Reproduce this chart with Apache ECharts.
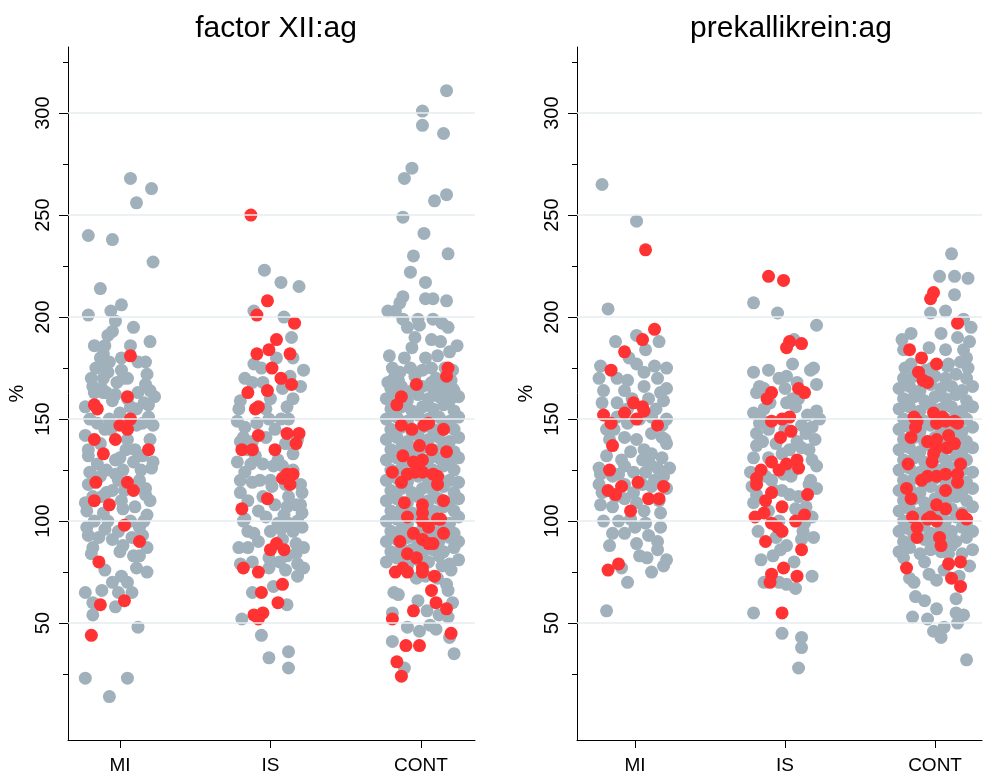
<!DOCTYPE html>
<html><head><meta charset="utf-8">
<script src="https://cdn.jsdelivr.net/npm/echarts@6/dist/echarts.min.js"></script>
<style>html,body{margin:0;padding:0;background:#fff}#c{width:987px;height:776px}</style>
</head><body><div id="c"></div>
<script>
const categories = ['MI', 'IS', 'CONT'];
const panelTitles = ['factor XII:ag', 'prekallikrein:ag'];
const yTickLabels = [50, 100, 150, 200, 250, 300];
const yMinorTicks = [25, 75, 125, 175, 225, 275, 325];

// [jitter, value] pairs — factor XII:ag
const fxMIGrey = [[.07,268],[.21,263],[.11,256],[-.21,240],[-.05,238],[.22,227],[-.13,214],[.01,206],[-.21,201],[-.06,203],[-.03,198],[-.05,193],[-.08,191],[.20,188],[-.17,186],[-.10,186],[.07,186],[-.13,180],[-.11,182],[.01,180],[.17,178],[-.08,173],[.01,174],[.02,170],[.18,172],[-.19,170],[-.18,166],[-.12,165],[-.11,163],[-.02,168],[.05,170],[.17,167],[.20,164],[.23,161],[.12,163],[-.17,163],[-.09,163],[-.03,162],[-.05,159],[.07,156],[.19,157],[.19,151],[.15,148],[-.23,156],[-.15,148],[.00,153],[.11,147],[.22,147],[-.23,142],[-.21,132],[.00,131],[.09,129],[.15,132],[.22,129],[.21,126],[-.20,124],[-.13,122],[-.03,123],[.02,125],[-.01,120],[-.21,118],[-.09,114],[-.05,115],[.17,116],[.17,113],[-.23,109],[-.22,105],[-.11,104],[.02,106],[.10,107],[.18,103],[-.22,97],[-.21,93],[-.10,96],[-.05,91],[.13,97],[.15,93],[-.18,87],[-.19,84],[.02,88],[.18,87],[.09,83],[.11,77],[.18,75],[-.10,76],[-.05,70],[.01,73],[.05,70],[-.23,65],[-.12,66],[-.01,65],[.08,65],[-.18,60],[-.03,58],[-.18,54],[.12,48],[-.23,23],[.05,23],[-.07,14],[-.13,176],[-.07,150],[.05,140],[-.13,138],[.13,120],[-.17,100],[.07,100],[-.03,130],[-.10,145],[.10,135],[.03,115],[.20,140],[-.12,112],[-.01,95],[.08,92],[-.15,128],[.05,160],[-.07,178],[-.16,175],[.12,178],[-.20,150],[.16,158],[-.06,145],[.14,125],[-.18,112],[.01,110],[-.08,100],[.20,110],[-.14,92],[.00,85],[.13,83],[-.21,135],[.04,135],[.11,155],[-.11,170],[.09,195],[-.09,125],[.16,100]];
const fxMIRed = [[.07,181],[.05,161],[-.17,157],[-.15,155],[.07,150],[.00,147],[.05,145],[-.17,140],[-.03,140],[-.11,133],[.19,135],[-.16,119],[.05,119],[.09,115],[-.17,110],[-.07,108],[.03,98],[.13,90],[-.14,80],[-.13,59],[.03,61],[-.19,44]];
const fxISGrey = [[-.04,223],[.07,217],[.19,215],[-.11,203],[.09,200],[.14,190],[.15,180],[.04,180],[-.11,177],[.22,174],[-.12,168],[-.05,168],[.13,171],[.20,166],[.08,165],[-.20,159],[-.21,155],[-.03,155],[-.01,150],[.11,156],[.12,150],[-.22,149],[-.17,146],[-.09,148],[-.03,141],[-.18,141],[-.20,139],[-.12,139],[.10,138],[.15,133],[-.22,129],[-.17,124],[-.05,128],[.02,127],[.08,127],[-.12,119],[-.07,120],[.01,117],[.20,118],[.21,114],[-.20,114],[-.15,110],[-.08,105],[-.03,102],[.11,107],[.17,108],[.21,104],[.09,103],[-.17,101],[.05,99],[.12,99],[.18,100],[.21,97],[-.15,95],[-.11,94],[.07,96],[.15,95],[-.21,87],[-.15,87],[.08,91],[.17,89],[.22,87],[-.01,82],[.11,83],[.17,84],[-.20,79],[-.01,77],[.10,76],[.18,79],[.22,77],[.18,73],[.02,68],[-.12,65],[.11,59],[-.19,52],[-.06,44],[-.01,33],[.12,36],[.12,28],[.03,145],[-.10,132],[.10,118],[-.05,112],[.03,108],[.15,125],[-.13,128],[.07,150],[.00,160],[-.17,170],[-.15,135],[.05,130],[.18,140],[-.20,120],[.12,112],[-.08,90],[.00,95],[.20,108],[-.12,80],[.06,80],[.15,160],[-.06,175],[.00,120],[-.18,100]];
const fxISRed = [[-.13,250],[-.02,208],[-.09,201],[.16,197],[.04,189],[-.01,184],[-.09,182],[.13,182],[.01,175],[.07,170],[.14,167],[-.15,163],[-.02,164],[-.10,155],[-.08,156],[-.08,142],[.11,143],[.19,143],[.17,138],[-.19,135],[-.12,135],[.03,135],[.11,123],[.15,123],[.08,121],[.13,118],[-.02,111],[-.19,106],[.00,86],[.04,89],[.09,86],[-.18,77],[-.08,75],[.08,69],[-.06,65],[.05,60],[-.11,54],[-.08,52],[-.05,55]];
const fxCONTGrey = [[.17,311],[.01,301],[.01,294],[.15,290],[-.06,273],[-.11,268],[.09,257],[.17,260],[-.12,249],[.02,241],[-.05,230],[.18,231],[-.07,222],[.03,217],[-.12,210],[-.14,207],[.03,209],[.08,209],[.17,208],[-.22,203],[-.17,203],[-.12,199],[-.09,195],[-.02,199],[-.01,196],[.08,199],[.14,197],[.18,195],[-.04,190],[.07,189],[.13,188],[.24,186],[-.06,185],[-.11,180],[-.21,181],[.03,180],[.11,181],[.19,183],[-.19,175],[-.14,173],[-.07,175],[.01,174],[.07,175],[.16,175],[.21,174],[-.22,168],[-.15,169],[.07,168],[.21,165],[.15,163],[-.18,65],[-.15,64],[-.02,61],[.04,56],[.12,54],[.18,53],[.21,60],[-.19,55],[-.09,48],[-.01,46],[.06,49],[.10,47],[-.19,41],[.19,43],[.22,35],[-.11,28],[-.03,72],[.03,73],[.11,72],[.17,69],[.18,66],[-.09,78],[.14,78],[.20,76]];
const fxCONTGreyCore = [[-.23,80],[-.16,82],[-.09,79],[-.02,81],[.05,80],[.12,83],[.19,79],[.25,81],[-.20,85],[-.13,87],[-.06,86],[.01,84],[.08,86],[.15,85],[.22,87],[-.23,90],[-.16,91],[-.09,92],[-.02,89],[.05,91],[.12,90],[.19,92],[.25,90],[-.20,95],[-.13,96],[-.06,94],[.01,96],[.08,95],[.15,97],[.22,94],[-.23,100],[-.16,101],[-.09,99],[-.02,102],[.05,100],[.12,101],[.19,99],[.25,102],[-.20,105],[-.13,106],[-.06,104],[.01,106],[.08,105],[.15,107],[.22,105],[-.23,110],[-.16,111],[-.09,109],[-.02,112],[.05,110],[.12,111],[.19,109],[.25,111],[-.20,115],[-.13,116],[-.06,114],[.01,116],[.08,115],[.15,117],[.22,114],[-.23,120],[-.16,121],[-.09,119],[-.02,122],[.05,120],[.12,121],[.19,120],[.25,119],[-.20,125],[-.13,126],[-.06,124],[.01,126],[.08,125],[.15,127],[.22,125],[-.23,130],[-.16,131],[-.09,129],[-.02,132],[.05,130],[.12,131],[.19,129],[.25,131],[-.20,135],[-.13,136],[-.06,134],[.01,136],[.08,135],[.15,137],[.22,134],[-.23,140],[-.16,141],[-.09,139],[-.02,142],[.05,140],[.12,141],[.19,139],[.25,141],[-.20,145],[-.13,146],[-.06,144],[.01,146],[.08,145],[.15,147],[.22,145],[-.23,150],[-.16,151],[-.09,149],[-.02,152],[.05,150],[.12,151],[.19,149],[.25,151],[-.20,155],[-.13,156],[-.06,154],[.01,156],[.08,155],[.15,157],[.22,154],[-.23,160],[-.16,161],[-.09,159],[-.02,162],[.05,160],[.12,161],[.19,159],[.25,161],[-.20,165],[-.13,166],[-.06,164],[.01,166],[.08,165],[.15,167],[.22,164],[-.18,170],[-.04,171],[.10,170],[.20,169]];
const fxCONTRed = [[.18,175],[.17,171],[-.03,167],[-.13,161],[-.16,157],[-.13,147],[-.06,145],[.02,147],[.05,148],[.15,145],[-.01,137],[.07,135],[.17,134],[-.12,132],[-.05,129],[.01,130],[-.02,127],[-.19,124],[-.09,123],[-.13,119],[-.04,124],[.01,124],[.08,123],[.11,122],[.11,118],[.15,110],[-.11,109],[.01,108],[.01,104],[.01,100],[-.09,102],[.11,101],[.13,101],[.05,97],[.15,94],[-.05,94],[-.14,90],[.01,91],[.05,89],[.08,89],[-.09,84],[-.03,82],[-.17,75],[-.12,77],[-.09,75],[.01,77],[.01,75],[.09,73],[.07,66],[.10,60],[-.05,56],[.17,57],[-.19,52],[.20,45],[-.10,39],[-.01,39],[-.16,31],[-.13,24]];

// [jitter, value] pairs — prekallikrein:ag
const pkMIGrey = [[-.22,265],[.01,247],[-.18,204],[.01,191],[-.13,188],[.16,188],[.07,184],[-.23,176],[-.24,170],[.01,177],[.13,176],[.21,175],[.15,170],[.06,173],[-.12,170],[-.05,169],[-.21,164],[-.07,164],[.06,166],[.17,163],[.19,159],[-.22,158],[-.12,158],[-.12,151],[.11,151],[.21,150],[.18,147],[-.07,141],[.01,140],[.11,143],[.21,138],[.18,141],[-.19,132],[-.03,134],[.05,130],[.11,133],[.18,131],[-.24,126],[-.23,123],[-.07,127],[-.01,124],[.15,126],[.23,126],[-.15,122],[-.11,123],[.07,124],[.19,122],[-.24,118],[-.22,114],[-.01,114],[.05,118],[-.23,108],[-.15,107],[-.07,111],[.01,109],[.11,117],[.17,104],[.21,116],[-.03,101],[.06,105],[.07,99],[.09,93],[.17,97],[-.15,94],[-.07,94],[.01,89],[.03,83],[.08,82],[.15,86],[.21,81],[.19,78],[.11,75],[-.09,77],[-.05,70],[-.19,56],[-.14,145],[-.05,155],[.09,160],[-.17,140],[.03,150],[.13,120],[-.11,100],[-.04,180],[.06,135],[-.21,100],[.16,110],[-.07,118],[-.19,145],[.14,155],[-.09,130],[.10,128],[-.02,160],[.21,165],[-.13,112],[.00,97],[.15,90],[-.17,88],[.20,140],[-.05,148]];
const pkMIRed = [[.07,233],[.13,194],[.05,189],[-.07,183],[-.16,174],[-.01,158],[.05,156],[.06,154],[.01,150],[-.07,153],[-.21,152],[-.16,148],[.15,147],[-.15,137],[-.17,125],[.02,119],[-.18,115],[-.13,113],[-.09,117],[.09,111],[.16,111],[.19,117],[-.03,105],[-.18,76],[-.11,79]];
const pkISGrey = [[-.21,207],[-.05,202],[.21,196],[.06,189],[.05,177],[.17,174],[.19,175],[-.21,173],[-.11,174],[-.04,170],[.01,171],[.08,168],[.21,167],[-.19,163],[-.17,166],[-.14,165],[.05,160],[.01,158],[.07,156],[-.21,153],[.21,154],[.23,150],[-.17,148],[-.19,143],[-.15,139],[-.06,138],[.11,147],[.14,143],[.18,146],[.08,139],[.11,136],[.16,135],[-.19,137],[-.21,131],[-.11,131],[-.02,133],[.18,130],[.21,127],[-.23,124],[-.13,122],[-.09,120],[-.01,123],[.04,122],[-.22,117],[.21,116],[.16,118],[.03,113],[.09,112],[-.19,113],[-.21,109],[.07,106],[.14,107],[.18,102],[.13,99],[-.06,92],[.01,88],[-.03,86],[.11,91],[.19,92],[-.16,81],[-.14,70],[-.04,70],[.01,69],[.07,67],[.18,73],[-.21,55],[-.02,45],[.11,43],[.11,38],[.09,28],[-.11,145],[.03,135],[-.07,115],[.06,125],[-.14,155],[.09,160],[-.04,100],[-.11,105],[-.16,150],[.00,145],[.17,120],[-.02,115],[.12,95],[-.18,95],[.20,140],[-.08,83],[.06,80],[.15,152],[-.10,158],[.00,165]];
const pkISRed = [[-.11,220],[-.01,218],[.03,188],[.01,185],[.11,187],[.09,165],[.13,163],[-.09,163],[-.12,160],[-.09,149],[-.02,150],[.03,151],[-.03,141],[.04,144],[-.09,129],[-.04,125],[.01,128],[.08,130],[.09,126],[-.16,125],[-.19,121],[-.19,118],[-.09,114],[-.13,110],[.15,113],[-.02,107],[.13,103],[.07,100],[-.20,102],[-.14,104],[-.09,99],[-.05,97],[-.02,95],[-.13,90],[.11,86],[-.01,77],[-.09,74],[-.10,70],[.08,73],[-.02,55]];
const pkCONTGrey = [[.11,231],[.03,220],[.13,220],[.22,219],[.13,211],[-.03,202],[.07,203],[.19,199],[.24,195],[-.16,192],[-.22,189],[.04,192],[.15,190],[-.21,184],[-.04,185],[.07,184],[.23,188],[.19,184],[-.16,177],[-.02,175],[.09,177],[.17,178],[.21,180],[-.17,72],[-.14,70],[-.13,63],[-.07,61],[.01,57],[.14,62],[-.15,53],[-.05,52],[.14,55],[.19,54],[.15,50],[-.01,46],[.04,43],[.06,48],[.21,32],[-.04,74],[.01,71],[.06,76],[.16,73],[-.21,82],[-.07,80],[.09,84],[.23,78]];
const pkCONTGreyCore = [[-.24,85],[-.17,87],[-.10,84],[-.03,86],[.04,85],[.11,88],[.18,84],[.25,86],[-.21,90],[-.14,92],[-.07,91],[.00,89],[.07,91],[.14,90],[.21,92],[-.24,95],[-.17,96],[-.10,97],[-.03,94],[.04,96],[.11,95],[.18,97],[.25,95],[-.21,100],[-.14,101],[-.07,99],[.00,101],[.07,100],[.14,102],[.21,99],[-.24,105],[-.17,106],[-.10,104],[-.03,107],[.04,105],[.11,106],[.18,104],[.25,107],[-.21,110],[-.14,111],[-.07,109],[.00,111],[.07,110],[.14,112],[.21,110],[-.24,115],[-.17,116],[-.10,114],[-.03,117],[.04,115],[.11,116],[.18,114],[.25,116],[-.21,120],[-.14,121],[-.07,119],[.00,121],[.07,120],[.14,122],[.21,119],[-.24,125],[-.17,126],[-.10,124],[-.03,127],[.04,125],[.11,126],[.18,125],[.25,124],[-.21,130],[-.14,131],[-.07,129],[.00,131],[.07,130],[.14,132],[.21,130],[-.24,135],[-.17,136],[-.10,134],[-.03,137],[.04,135],[.11,136],[.18,134],[.25,136],[-.21,140],[-.14,141],[-.07,139],[.00,141],[.07,140],[.14,142],[.21,139],[-.24,145],[-.17,146],[-.10,144],[-.03,147],[.04,145],[.11,146],[.18,144],[.25,146],[-.21,150],[-.14,151],[-.07,149],[.00,151],[.07,150],[.14,152],[.21,150],[-.24,155],[-.17,156],[-.10,154],[-.03,157],[.04,155],[.11,156],[.18,154],[.25,156],[-.21,160],[-.14,161],[-.07,159],[.00,161],[.07,160],[.14,162],[.21,159],[-.24,165],[-.17,166],[-.10,164],[-.03,167],[.04,165],[.11,166],[.18,164],[.25,166],[-.21,170],[-.14,171],[-.07,169],[.00,171],[.07,170],[.14,172],[.21,170],[-.20,175],[-.06,174],[.08,176],[.22,175]];
const pkCONTRed = [[-.01,212],[-.03,209],[.15,197],[-.17,184],[-.09,180],[.01,177],[-.11,173],[-.08,169],[-.05,168],[-.14,151],[-.12,149],[-.16,141],[-.13,146],[-.01,153],[.05,151],[.01,148],[.07,149],[.13,149],[.15,148],[.09,142],[.13,138],[-.05,139],[.01,140],[.01,136],[.08,136],[-.18,128],[-.02,129],[-.01,133],[.17,128],[.15,123],[-.09,120],[-.05,122],[.01,122],[.07,123],[.15,119],[-.19,116],[-.16,111],[.07,115],[.01,108],[.07,106],[.18,103],[.21,101],[-.15,102],[-.12,97],[-.12,92],[-.05,101],[-.03,102],[.01,100],[.03,92],[.04,88],[-.19,77],[.09,79],[.17,80],[.11,72],[.17,68]];

const GREY = '#a0b1bc', RED = '#ff3333', FONT = '"Liberation Sans", Arial, Helvetica, sans-serif';
const Y_MIN = -7.3, Y_MAX = 332.4;

function place(groups) {
  const out = [];
  groups.forEach((g, i) => g.forEach(([j, v]) => out.push([i + 1 + j, v])));
  return out;
}

function xAxisFor(gi, min, max) {
  return {
    gridIndex: gi, type: 'value', min: min, max: max,
    axisLine: { show: true, onZero: false, lineStyle: { color: '#000', width: 1 } },
    axisTick: { show: true, length: 8, customValues: [1, 2, 3], lineStyle: { color: '#000' } },
    axisLabel: { customValues: [1, 2, 3], formatter: v => categories[Math.round(v) - 1] || '', fontSize: 19, color: '#000', margin: 16, fontFamily: FONT },
    splitLine: { show: false }
  };
}
function yAxisMain(gi) {
  return {
    gridIndex: gi, type: 'value', min: Y_MIN, max: Y_MAX, position: 'left',
    axisLine: { show: true, onZero: false, lineStyle: { color: '#000', width: 1 } },
    axisTick: { show: true, length: 9, customValues: yTickLabels, lineStyle: { color: '#000' } },
    axisLabel: { customValues: yTickLabels, rotate: 90, fontSize: 20, color: '#000', margin: 15, fontFamily: FONT },
    splitLine: { show: false },
    name: '%', nameLocation: 'middle', nameRotate: 90, nameGap: 41,
    nameTextStyle: { fontSize: 20, color: '#000', fontFamily: FONT }
  };
}
function yAxisMinor(gi) {
  return {
    gridIndex: gi, type: 'value', min: Y_MIN, max: Y_MAX, position: 'left',
    axisLine: { show: false },
    axisTick: { show: true, length: 5, customValues: yMinorTicks, lineStyle: { color: '#000' } },
    axisLabel: { show: false }, splitLine: { show: false }
  };
}
function gridLines(xi, yi) {
  return {
    type: 'scatter', xAxisIndex: xi, yAxisIndex: yi, data: [], silent: true, z: 1,
    markLine: { silent: true, symbol: 'none', animation: false, label: { show: false },
      lineStyle: { color: '#e6eef1', width: 1.5, type: 'solid' },
      data: yTickLabels.map(v => ({ yAxis: v })) }
  };
}
function pts(xi, yi, data, color, z) {
  return { type: 'scatter', xAxisIndex: xi, yAxisIndex: yi, data: data, symbol: 'circle', symbolSize: 13,
    itemStyle: { color: color, opacity: 1 }, z: z, silent: true };
}

const chart = echarts.init(document.getElementById('c'), null, { renderer: 'canvas' });
chart.setOption({
  animation: false,
  backgroundColor: '#fff',
  title: [
    { text: panelTitles[0], left: 271, top: 9, textAlign: 'center', textStyle: { fontSize: 30, fontWeight: 'normal', color: '#000', fontFamily: FONT } },
    { text: panelTitles[1], left: 786, top: 9, textAlign: 'center', textStyle: { fontSize: 30, fontWeight: 'normal', color: '#000', fontFamily: FONT } }
  ],
  grid: [
    { left: 68, top: 47, width: 407, height: 693 },
    { left: 577, top: 47, width: 405, height: 693 }
  ],
  xAxis: [xAxisFor(0, 0.655, 3.359), xAxisFor(1, 0.613, 3.313)],
  yAxis: [yAxisMain(0), yAxisMinor(0), yAxisMain(1), yAxisMinor(1)],
  series: [
    gridLines(0, 0), gridLines(1, 2),
    pts(0, 0, place([fxMIGrey, fxISGrey, fxCONTGrey.concat(fxCONTGreyCore)]), GREY, 3),
    pts(0, 0, place([fxMIRed, fxISRed, fxCONTRed]), RED, 4),
    pts(1, 2, place([pkMIGrey, pkISGrey, pkCONTGrey.concat(pkCONTGreyCore)]), GREY, 3),
    pts(1, 2, place([pkMIRed, pkISRed, pkCONTRed]), RED, 4)
  ]
});
</script></body></html>
